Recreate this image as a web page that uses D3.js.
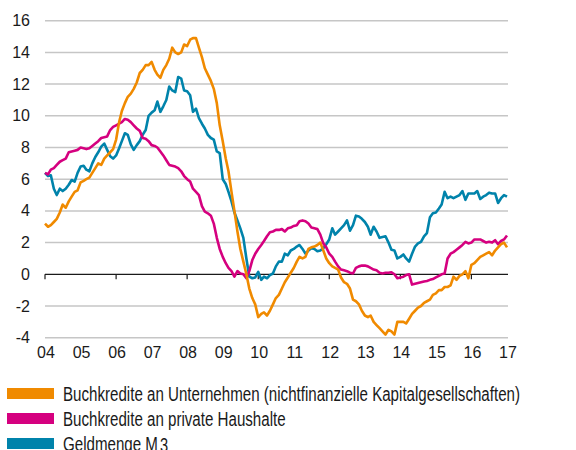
<!DOCTYPE html>
<html>
<head>
<meta charset="utf-8">
<script src="https://cdn.jsdelivr.net/npm/d3@7"></script>
<style>
  body { margin: 0; background: #fff; }
  svg text { font-family: "Liberation Sans", Arial, sans-serif; fill: #1a1a1a; }
</style>
</head>
<body>
<div id="chart"></div>
<script>
// monthly values Jan 2004 .. Jan 2017, % yoy
const unternehmen = [
  3.2, 3.0, 3.1, 3.3, 3.5, 3.9, 4.4, 4.2, 4.6, 4.9, 5.2, 5.3,
  5.8, 5.9, 6.0, 6.1, 6.4, 6.7, 7.0, 6.9, 7.3, 7.5, 7.7, 7.9,
  8.5, 9.6, 10.3, 10.8, 11.2, 11.4, 11.7, 12.1, 12.7, 12.9, 13.2, 13.2,
  13.4, 12.9, 12.6, 12.4, 12.9, 13.2, 13.6, 14.3, 14.0, 13.9, 14.0, 14.5,
  14.4, 14.8, 14.9, 14.9, 14.3, 13.7, 13.0, 12.6, 12.2, 11.7, 10.8, 9.4,
  8.4, 7.3, 6.5, 5.2, 4.0, 2.7, 1.6, 0.8, 0.0, -0.9, -1.5, -1.9,
  -2.7, -2.5, -2.4, -2.6, -2.3, -1.9, -1.5, -1.3, -0.9, -0.5, -0.2, 0.1,
  0.4, 0.8, 1.1, 1.0, 1.1, 1.6, 1.7, 1.75, 1.85, 2.0, 1.5, 1.0,
  0.7, 0.5, 0.4, 0.3, -0.2, -0.5, -0.6, -0.9, -1.6, -1.7, -1.9, -2.3,
  -2.6, -2.7, -2.6, -3.0, -3.2, -3.4, -3.6, -3.8, -3.5, -3.6, -3.8, -3.0,
  -3.0, -3.0, -3.1, -2.8, -2.5, -2.3, -2.1, -2.0, -1.8, -1.7, -1.6, -1.3,
  -1.2, -1.0, -1.0, -0.8, -0.8, -0.7, -0.15, -0.35, -0.1, 0.0, 0.2, -0.25,
  0.6, 0.7, 0.9, 1.1, 1.2, 1.3, 1.4, 1.2, 1.5, 1.7, 1.9, 2.0,
  1.7
];
const haushalte = [
  6.4, 6.3, 6.6, 6.7, 6.9, 7.1, 7.2, 7.3, 7.7, 7.75, 7.8, 7.85,
  8.0, 7.95, 7.9, 7.95, 8.1, 8.25, 8.4, 8.6, 8.65, 8.7, 9.1, 9.3,
  9.4, 9.5, 9.6, 9.8, 9.75, 9.6, 9.4, 9.2, 9.05, 8.6, 8.55, 8.4,
  8.15, 8.1, 8.0, 7.75, 7.5, 7.2, 6.9, 6.85, 6.8, 6.7, 6.5, 6.2,
  6.0, 5.85, 5.4, 5.2, 5.0, 4.3, 3.95, 3.85, 3.7, 3.2, 2.3, 1.6,
  1.1, 0.7, 0.4, 0.2, -0.15, 0.2, 0.05, 0.0, -0.25, 0.2, 0.9, 1.3,
  1.6, 1.85, 2.1, 2.4, 2.65, 2.7, 2.8, 2.8, 2.85, 2.7, 2.9, 2.95,
  3.05, 3.1, 3.35, 3.4, 3.35, 3.2, 2.95, 2.9, 2.85, 2.5, 1.95, 1.7,
  1.3, 1.1, 0.8, 0.5, 0.3, 0.25, 0.2, 0.1, 0.05, 0.4, 0.5, 0.55,
  0.55, 0.5, 0.4, 0.3, 0.25, 0.1, 0.05, 0.1, 0.1, 0.13, 0.0, -0.25,
  -0.2, -0.15, -0.05, 0.0, -0.65, -0.6, -0.55, -0.5, -0.45, -0.42, -0.35, -0.3,
  -0.2, -0.1, 0.0, 0.05, 1.0, 1.3, 1.4, 1.55, 1.7, 1.85, 2.05, 1.95,
  2.0, 2.2, 2.2, 2.2, 2.1, 2.0, 2.05, 2.0, 2.15, 1.9, 2.1, 2.2,
  2.45
];
const geldmenge = [
  6.4, 6.2, 6.25, 5.4, 5.0, 5.4, 5.25, 5.4, 5.65, 5.95, 5.85, 6.4,
  6.8, 6.85, 6.6, 6.5, 7.0, 7.4, 7.7, 8.05, 8.25, 7.85, 7.45, 7.3,
  7.5, 7.95, 8.4, 8.9, 8.8, 8.2, 7.85, 8.15, 8.4, 8.8, 9.1, 10.0,
  10.2, 10.35, 10.9, 10.25, 10.6, 11.0, 11.85, 11.6, 11.5, 12.45, 12.35, 11.6,
  11.55, 11.3, 10.25, 10.45, 9.85, 9.5, 9.2, 8.8, 8.6, 8.5, 7.75, 7.65,
  6.0, 5.7, 5.2, 4.6, 3.9, 3.4, 2.9, 2.3, 1.0, -0.15, -0.25, -0.2,
  0.15, -0.35, -0.15, -0.25, -0.05, 0.05, 0.5, 0.8, 0.8, 1.3, 1.2, 1.5,
  1.6, 1.75, 1.85, 1.6, 1.3, 1.5, 1.65, 1.6, 1.45, 1.5, 1.65, 1.9,
  2.2, 2.9, 2.5, 2.7, 2.9, 3.1, 3.4, 2.75, 3.1, 3.7, 3.65, 3.5,
  3.3, 3.0, 2.5, 3.0, 2.7, 2.3, 2.35, 2.4, 2.0, 1.55, 1.5, 1.0,
  1.1, 1.25, 1.0, 0.8, 1.3, 1.75, 1.95, 2.05, 2.4, 2.6, 3.6, 3.85,
  3.9, 4.15, 4.4, 5.2, 4.8, 4.9, 4.8, 4.9, 5.0, 5.25, 4.7, 5.1,
  5.1, 5.1, 5.25, 4.75, 4.9, 5.0, 5.15, 5.1, 5.1, 4.5, 4.8, 5.0,
  4.9
];
const yTicks = [-4, -2, 0, 2, 4, 6, 8, 10, 12, 14, 16];
const years = d3.range(2004, 2018);
const legendLabels = [
  'Buchkredite an Unternehmen (nichtfinanzielle Kapitalgesellschaften)',
  'Buchkredite an private Haushalte',
  'Geldmenge M'
];
const colors = ['#f08a00', '#d5007f', '#0083ab'];

const width = 576, height = 450;
const svg = d3.select('#chart').append('svg').attr('width', width).attr('height', height);

const x = d3.scaleTime().domain([new Date(2004, 0, 1), new Date(2017, 0, 1)]).range([45, 507]);
const y = d3.scaleLinear().domain([-4, 16]).range([337.7, 20.7]);
const dateOf = i => new Date(2004, i, 1);

// gitter
svg.append('g').selectAll('line').data(yTicks.filter(d => d !== 0)).enter().append('line')
  .attr('x1', 45).attr('x2', 508)
  .attr('y1', d => y(d)).attr('y2', d => y(d))
  .attr('stroke', '#c6c6c6').attr('stroke-width', 1.5);

// y labels
svg.append('g').selectAll('text').data(yTicks).enter().append('text')
  .attr('x', 30).attr('y', d => y(d) + 5.5)
  .attr('text-anchor', 'end').attr('font-size', 16)
  .text(d => d);

// zero line + ticks
svg.append('line').attr('x1', 45).attr('x2', 508).attr('y1', y(0)).attr('y2', y(0))
  .attr('stroke', '#1a1a1a').attr('stroke-width', 1.2);
svg.append('g').selectAll('line').data(years.filter(d => d % 2 === 0)).enter().append('line')
  .attr('x1', d => x(new Date(d, 0, 1))).attr('x2', d => x(new Date(d, 0, 1)))
  .attr('y1', y(0)).attr('y2', y(0) + 5)
  .attr('stroke', '#1a1a1a').attr('stroke-width', 1.2);

// x labels
svg.append('g').selectAll('text').data(years).enter().append('text')
  .attr('x', d => x(new Date(d, 0, 1)) + 1).attr('y', 358)
  .attr('text-anchor', 'middle').attr('font-size', 16)
  .text(d => String(d).slice(2));

// linien
const line = d3.line().x((d, i) => x(dateOf(i))).y(d => y(d));
const series = [geldmenge, haushalte, unternehmen];
const seriesColors = [colors[2], colors[1], colors[0]];
series.forEach((s, k) => {
  svg.append('path').datum(s)
    .attr('d', line)
    .attr('fill', 'none')
    .attr('stroke', seriesColors[k])
    .attr('stroke-width', 2.6)
    .attr('stroke-linejoin', 'round');
});

// legende (schmal gesetzt wie im original)
const lg = svg.append('g');
let squeeze = 1;
legendLabels.forEach((t, i) => {
  const ly = 388 + i * 25;
  lg.append('rect').attr('x', 7).attr('y', ly).attr('width', 47).attr('height', 11).attr('fill', colors[i]);
  const txt = lg.append('text').attr('x', 63).attr('y', ly + 12.5).attr('font-size', 19.5).text(t);
  const natural = txt.node().getComputedTextLength();
  if (i === 0) squeeze = 457 / natural;
  txt.attr('textLength', natural * squeeze).attr('lengthAdjust', 'spacingAndGlyphs');
  if (i === 2) {
    // tiefgestellte 3 wie im original
    lg.append('text').attr('x', 63 + natural * squeeze + 2).attr('y', ly + 14)
      .attr('font-size', 19.5).attr('textLength', 10 * squeeze * 1.05)
      .attr('lengthAdjust', 'spacingAndGlyphs').text('3');
  }
});
</script>
</body>
</html>
